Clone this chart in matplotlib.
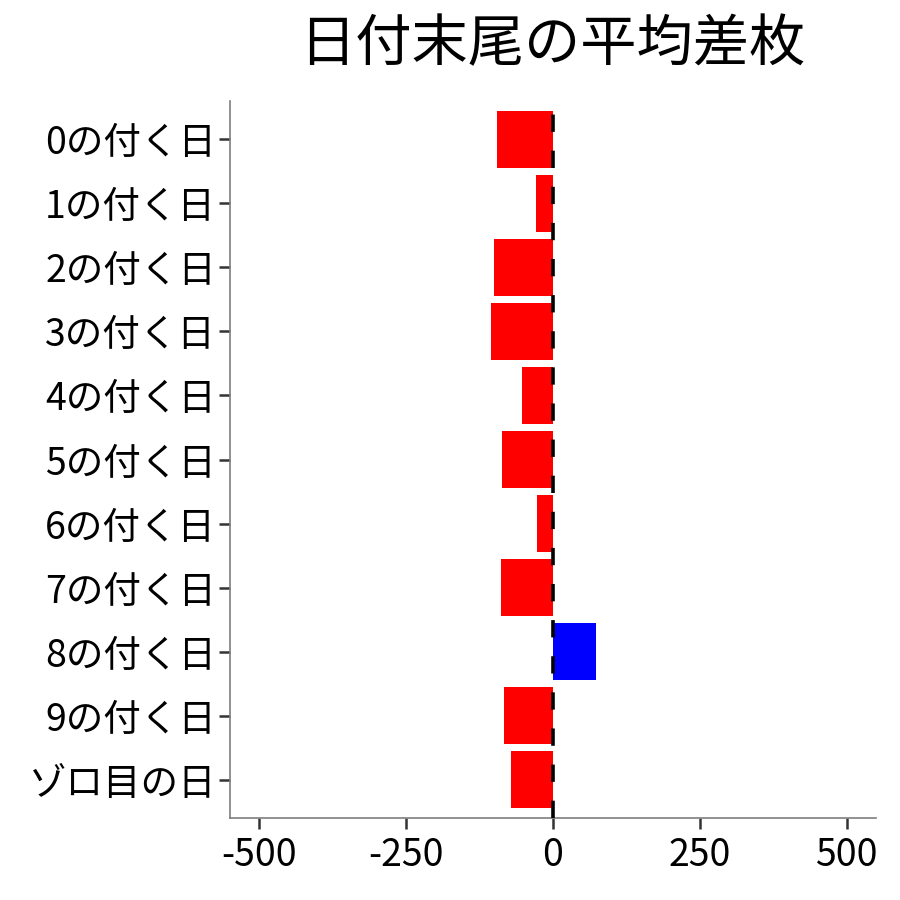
import matplotlib
matplotlib.use("Agg")
import matplotlib.pyplot as plt
import numpy as np

plt.rcParams['font.family'] = ['Noto Sans CJK JP', 'DejaVu Sans']

categories = ["0の付く日", "1の付く日", "2の付く日", "3の付く日", "4の付く日",
              "5の付く日", "6の付く日", "7の付く日", "8の付く日", "9の付く日", "ゾロ目の日"]
values = [-96, -29, -101, -106, -53, -87, -28, -89, 73, -84, -71]
xticks = [-500, -250, 0, 250, 500]
title = "日付末尾の平均差枚"

fig = plt.figure(figsize=(9, 9), dpi=100)
ax = fig.add_axes([230/900, (900-818)/900, (876-230)/900, (818-101)/900])

y = np.arange(len(categories))
colors = ["blue" if v > 0 else "red" for v in values]
ax.barh(y, values, height=0.9, color=colors, zorder=2)
ax.axvline(0, color="black", linewidth=2.6, linestyle=(0, (4.8, 5.2)), zorder=3)

ax.set_xlim(-550, 550)
ax.set_ylim(len(categories) - 0.4, -0.6)
ax.set_yticks(y)
ax.set_yticklabels(categories, fontsize=27)
ax.set_xticks(xticks)
ax.set_xticklabels([str(t) for t in xticks], fontsize=27)

for s in ["top", "right"]:
    ax.spines[s].set_visible(False)
for s in ["left", "bottom"]:
    ax.spines[s].set_color("#7f7f7f")
    ax.spines[s].set_linewidth(1.2)
ax.tick_params(axis="y", length=8, width=1.8, color="#333333", pad=2, labelcolor="black")
ax.tick_params(axis="x", length=8, width=1.8, color="#333333", pad=5, labelcolor="black")

fig.text(552/900, 1 - 45/900, title, fontsize=40.5, ha="center", va="center")

fig.savefig("out.png", dpi=100)
